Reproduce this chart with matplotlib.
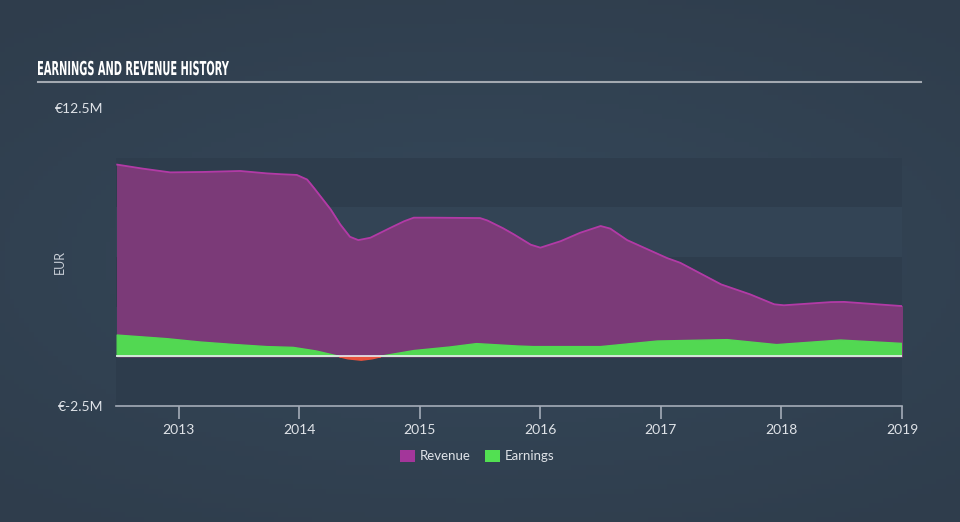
import numpy as np
import matplotlib
matplotlib.use("Agg")
import matplotlib.pyplot as plt
from matplotlib.patches import Rectangle, PathPatch
from matplotlib.colors import LinearSegmentedColormap
from matplotlib.textpath import TextPath
from matplotlib.font_manager import FontProperties
from matplotlib.transforms import Affine2D, IdentityTransform

# values in EUR millions, x in decimal years
rev_x = [2012.49, 2012.70, 2012.93, 2013.20, 2013.51, 2013.73, 2013.84, 2013.98,
         2014.065, 2014.12, 2014.26, 2014.34, 2014.42, 2014.49, 2014.59, 2014.76,
         2014.87, 2014.95, 2015.11, 2015.50, 2015.56, 2015.69, 2015.78, 2015.92,
         2016.00, 2016.17, 2016.33, 2016.50, 2016.58, 2016.72, 2017.05, 2017.16,
         2017.50, 2017.74, 2017.94, 2018.02, 2018.41, 2018.52, 2018.79, 2019.00]
revenue = [9.65, 9.45, 9.26, 9.28, 9.33, 9.21, 9.17, 9.13,
           8.90, 8.49, 7.40, 6.64, 6.02, 5.85, 5.97, 6.48,
           6.80, 6.98, 6.98, 6.96, 6.84, 6.45, 6.14, 5.62,
           5.47, 5.80, 6.22, 6.56, 6.43, 5.85, 4.95, 4.71,
           3.62, 3.12, 2.62, 2.57, 2.73, 2.74, 2.62, 2.53]

earn_x = [2012.49, 2012.90, 2013.18, 2013.45, 2013.73, 2013.95, 2014.14, 2014.31,
          2014.40, 2014.51, 2014.60, 2014.67, 2014.95, 2015.25, 2015.47, 2015.81,
          2015.94, 2016.50, 2016.97, 2017.55, 2017.96, 2018.49, 2019.00]
earnings = [1.07, 0.89, 0.72, 0.60, 0.49, 0.45, 0.27, 0.03,
            -0.10, -0.17, -0.10, 0.0, 0.29, 0.47, 0.64, 0.52,
            0.49, 0.49, 0.77, 0.84, 0.59, 0.82, 0.65]

years = [2013, 2014, 2015, 2016, 2017, 2018, 2019]
y_ticks = [12.5, -2.5]
y_labels = ["€12.5M", "€-2.5M"]

W, H = 960, 522
fig = plt.figure(figsize=(W / 100, H / 100), dpi=100)
fig.patch.set_facecolor("#324253")

# soft background gradient
bg = fig.add_axes([0, 0, 1, 1], zorder=-10)
gx, gy = np.meshgrid(np.linspace(-1, 1, 200), np.linspace(-1, 1, 110))
grad = np.clip(np.sqrt((gx * 0.9) ** 2 + (gy * 1.1) ** 2), 0, 1.4)
cmap = LinearSegmentedColormap.from_list("bg", ["#35485a", "#2f3d4c"])
bg.imshow(grad, cmap=cmap, aspect="auto", extent=[0, 1, 0, 1])
bg.axis("off")

ax = fig.add_axes([116 / W, 1 - 406 / H, 786 / W, 298 / H])
ax.set_facecolor("none")
x0, x1 = 2012.48, 2019.0
ax.set_xlim(x0, x1)
ax.set_ylim(-2.5, 12.5)

# horizontal bands
bands = [(-2.5, 0, "#2d3c4c"), (0, 2.5, "#324354"), (2.5, 5, "#2e3d4d"),
         (5, 7.5, "#334455"), (7.5, 10, "#2e3d4d")]
for lo, hi, c in bands:
    ax.add_patch(Rectangle((x0, lo), x1 - x0, hi - lo, facecolor=c,
                           edgecolor="none", zorder=0))

ax.fill_between(rev_x, revenue, 0, color="#7b3a78", zorder=2)
ax.plot(rev_x, revenue, color="#b23aa6", lw=1.3, zorder=3,
        solid_joinstyle="round")

ex = np.array(earn_x)
ey = np.array(earnings)
fine_x = np.linspace(ex[0], ex[-1], 800)
fine_y = np.interp(fine_x, ex, ey)
ax.fill_between(fine_x, fine_y, 0, where=fine_y >= 0, color="#52d852", zorder=4,
                interpolate=True)
ax.fill_between(fine_x, fine_y, 0, where=fine_y < 0, color="#e8523d", zorder=4,
                interpolate=True)

ax.axhline(0, color="#e8ecef", lw=1.2, zorder=5)

for s in ["top", "right", "left"]:
    ax.spines[s].set_visible(False)
ax.spines["bottom"].set_color("#a4acb8")
ax.spines["bottom"].set_linewidth(1.2)

ax.set_xticks(years)
ax.set_xticklabels([str(y) for y in years])
ax.tick_params(axis="x", colors="#a4acb8", length=9, width=1.2, pad=4,
               labelcolor="#dfe3e8", labelsize=10)
ax.set_yticks(y_ticks)
ax.set_yticklabels(y_labels)
ax.tick_params(axis="y", length=0, pad=9, labelcolor="#dfe3e8", labelsize=10)
for lab in ax.get_xticklabels() + ax.get_yticklabels():
    lab.set_family("Lato")

fig.text(60 / W, 1 - 262 / H, "EUR", rotation=90, color="#c8ced6",
         fontsize=9, family="Lato", ha="center", va="center")

# condensed title drawn as a squeezed text path
title = "EARNINGS AND REVENUE HISTORY"
tp = TextPath((0, 0), title, size=20,
              prop=FontProperties(family="DejaVu Sans", weight="bold"))
ext = tp.get_extents()
sx = 191 / ext.width
sy = 14 / 20 / 0.73
tr = Affine2D().translate(-ext.x0, 0).scale(sx, sy).translate(38, H - 75)
fig.add_artist(PathPatch(tp, transform=tr + IdentityTransform(),
                         facecolor="white", edgecolor="none"))
fig.add_artist(plt.Line2D([38 / W, 921 / W], [1 - 82 / H, 1 - 82 / H],
                          color="#a3a9b1", lw=1.5))

# legend
fig.add_artist(Rectangle((400 / W, 1 - 462 / H), 15 / W, 12 / H,
                         facecolor="#a3369a", edgecolor="none"))
fig.text(420 / W, 1 - 456 / H, "Revenue", color="#dfe3e8", fontsize=9.5,
         family="Lato", va="center")
fig.add_artist(Rectangle((485 / W, 1 - 462 / H), 15 / W, 12 / H,
                         facecolor="#52e052", edgecolor="none"))
fig.text(505 / W, 1 - 456 / H, "Earnings", color="#dfe3e8", fontsize=9.5,
         family="Lato", va="center")

fig.savefig("out.png", dpi=100, facecolor=fig.get_facecolor())
